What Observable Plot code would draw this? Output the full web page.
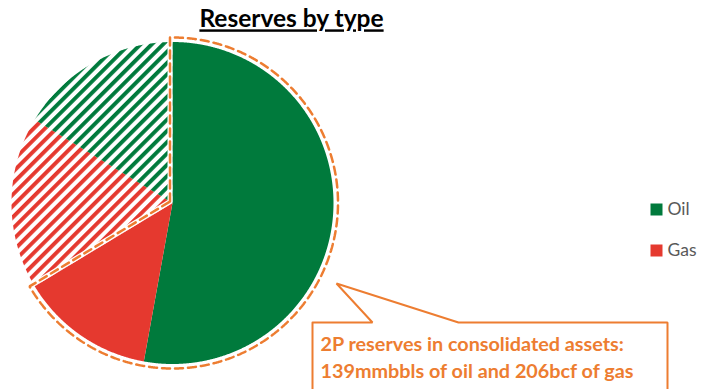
<!DOCTYPE html>
<html><head><meta charset="utf-8">
<script src="https://cdn.jsdelivr.net/npm/d3@7"></script>
<script src="https://cdn.jsdelivr.net/npm/@observablehq/plot@0.6"></script>
<style>html,body{margin:0;padding:0;background:#fff}</style>
</head><body><div id="chart"></div>
<script>
// ---- data (estimated mmboe shares) ----
const sliceNames = ["Oil (consolidated)", "Gas (consolidated)", "Gas (other)", "Oil (other)"];
const sliceTypes = ["Oil", "Gas", "Gas", "Oil"];
const sliceHatched = [false, false, true, true];
const sliceValues = [139, 35.5, 45.5, 43];
const legendLabels = ["Oil", "Gas"];
const titleText = "Reserves by type";
const calloutLines = ["2P reserves in consolidated assets:", "139mmbbls of oil and 206bcf of gas"];

// ---- layout ----
const W = 712, H = 389;
const cx = 172, cy = 202.5, R = 161, Ro = 165.5, off = 2.5;
const colors = {Oil: "#007A3C", Gas: "#E5392F"};
const orange = "#ED7D31";
const font = "Lato, 'Open Sans', sans-serif";

const arcs = d3.pie().sort(null).value(d => d)(sliceValues);
const pt = (a, r) => ({x: cx + r * Math.sin(a), y: cy - r * Math.cos(a)});
function arcPoints(a0, a1, r, step = 0.004) {
  const n = Math.max(2, Math.ceil(Math.abs(a1 - a0) / step));
  return d3.range(n + 1).map(i => pt(a0 + (a1 - a0) * i / n, r));
}
const slicePolys = arcs.map(a => [{x: cx, y: cy}, ...arcPoints(a.startAngle, a.endAngle, R), {x: cx, y: cy}]);

// dashed outline around consolidated (solid) slices
const solidIdx = sliceHatched.map((h, i) => h ? -1 : i).filter(i => i >= 0);
const aStart = arcs[solidIdx[0]].startAngle;
const aEnd = arcs[solidIdx[solidIdx.length - 1]].endAngle;
const half = (2 * Math.PI - (aEnd - aStart)) / 2;
const V = pt(aEnd + half, off / Math.sin(half));
const dlt = Math.asin(off / Ro);
const outline = [V, ...arcPoints(aStart - dlt, aEnd + dlt, Ro), V];

// callout box with pointer
const box = {x0: 312, x1: 667, y0: 322, y1: 400};
const tip = {x: 336, y: 283}, base = [372, 458];
const callout = [
  {x: box.x0, y: box.y0}, {x: base[0], y: box.y0}, tip, {x: base[1], y: box.y0},
  {x: box.x1, y: box.y0}, {x: box.x1, y: box.y1}, {x: box.x0, y: box.y1}, {x: box.x0, y: box.y0}
];

const defs = () => {
  const ns = "http://www.w3.org/2000/svg";
  const d = document.createElementNS(ns, "defs");
  for (const t of legendLabels) {
    const p = document.createElementNS(ns, "pattern");
    p.setAttribute("id", "hatch-" + t);
    p.setAttribute("patternUnits", "userSpaceOnUse");
    p.setAttribute("width", "8"); p.setAttribute("height", "8");
    p.setAttribute("patternTransform", "rotate(45)");
    const r = document.createElementNS(ns, "rect");
    r.setAttribute("x", "0"); r.setAttribute("y", "0");
    r.setAttribute("width", "3.9"); r.setAttribute("height", "8");
    r.setAttribute("fill", colors[t]);
    p.appendChild(r); d.appendChild(p);
  }
  return d;
};

const marks = [defs];
slicePolys.forEach((poly, i) => {
  marks.push(Plot.line(poly, {
    x: "x", y: "y", stroke: "none", strokeWidth: 0,
    fill: sliceHatched[i] ? `url(#hatch-${sliceTypes[i]})` : colors[sliceTypes[i]]
  }));
});
marks.push(
  Plot.line(outline, {x: "x", y: "y", stroke: "white", strokeWidth: 5, fill: "none"}),
  Plot.line(outline, {x: "x", y: "y", stroke: orange, strokeWidth: 2.5, strokeDasharray: "8,5", fill: "none", strokeLinejoin: "miter"}),
  Plot.line(callout, {x: "x", y: "y", stroke: orange, strokeWidth: 2, fill: "white", strokeLinejoin: "miter"}),
  Plot.text(calloutLines, {x: box.x0 + 8, y: (d, i) => 344 + i * 27, text: d => d, textAnchor: "start",
    fill: orange, fontWeight: "bold", fontSize: 19.8}),
  Plot.dot(legendLabels, {x: 656, y: (d, i) => 209 + i * 41, symbol: "square", r: 6.77, fill: d => colors[d], stroke: "none"}),
  Plot.text(legendLabels, {x: 667, y: (d, i) => 209 + i * 41, text: d => d, textAnchor: "start", fill: "#595959", fontSize: 17.5}),
  Plot.text([titleText], {x: 291, y: 19, text: d => d, fontWeight: "bold", fontSize: 24.5, fill: "black", className: "title-mark"})
);

const chart = Plot.plot({
  width: W, height: H,
  margin: 0,
  x: {type: "linear", domain: [0, W], range: [0, W], axis: null},
  y: {type: "linear", domain: [0, H], range: [0, H], axis: null},
  fill: {type: "identity"},
  style: {background: "white", fontFamily: font, overflow: "hidden"},
  marks
});
chart.querySelectorAll(".title-mark text").forEach(t => t.style.textDecoration = "underline");
document.getElementById("chart").appendChild(chart);
</script>
</body></html>
